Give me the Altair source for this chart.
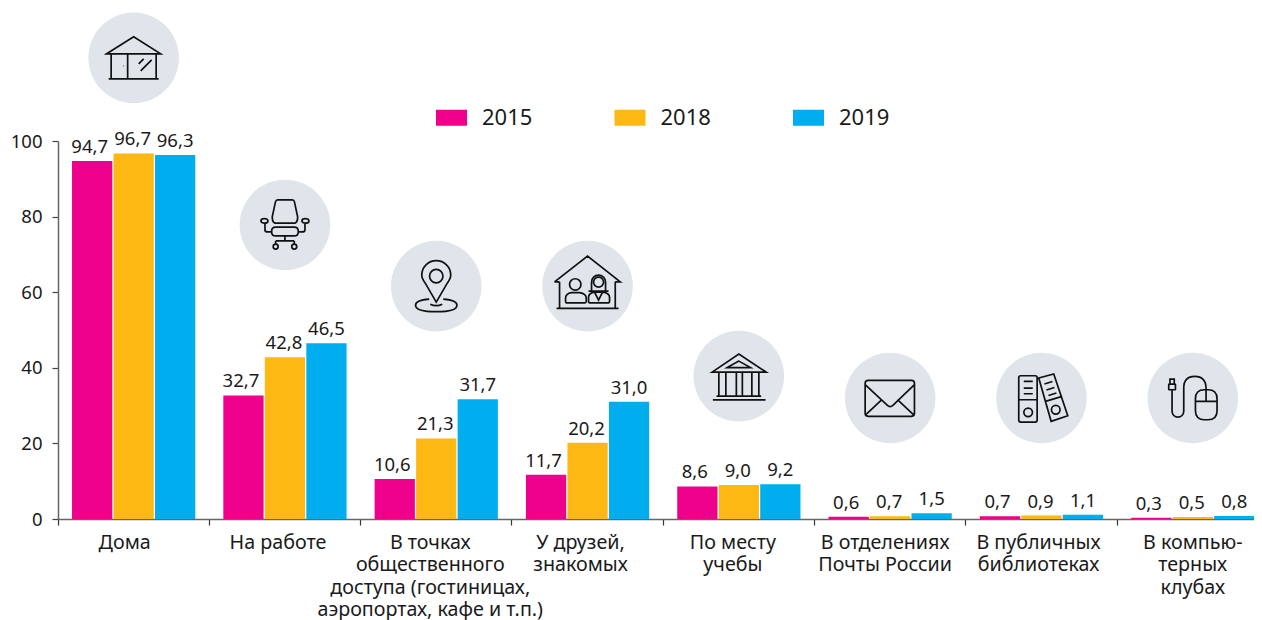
import altair as alt
import pandas as pd

categories = ["Дома", "На работе", "В точках|общественного|доступа (гостиницах,|аэропортах, кафе и т.п.)",
              "У друзей,|знакомых", "По месту|учебы", "В отделениях|Почты России",
              "В публичных|библиотеках", "В компью-|терных|клубах"]
label_shift = [-9, -7, -6, -7, -6, -5, -3, 0]
years = ["2015", "2018", "2019"]
colors = ["#EE008C", "#FDB813", "#00AEEF"]
year_label_dx = [-2.5, -1, 0]
v2015 = [94.7, 32.7, 10.6, 11.7, 8.6, 0.6, 0.7, 0.3]
v2018 = [96.7, 42.8, 21.3, 20.2, 9.0, 0.7, 0.9, 0.5]
v2019 = [96.3, 46.5, 31.7, 31.0, 9.2, 1.5, 1.1, 0.8]
icon_levels = [122, 77.8, 61.6, 61.6, 37.8, 32, 32, 32]
FONT = "Noto Sans"
INK = "#1a1a1a"


def circ(cx, cy, r):
    return f"M{cx-r},{cy}a{r},{r} 0 1,0 {2*r},0a{r},{r} 0 1,0 {-2*r},0"


def rrect(x0, y0, x1, y1, r):
    return (f"M{x0+r},{y0}L{x1-r},{y0}Q{x1},{y0} {x1},{y0+r}L{x1},{y1-r}Q{x1},{y1} {x1-r},{y1}"
            f"L{x0+r},{y1}Q{x0},{y1} {x0},{y1-r}L{x0},{y0+r}Q{x0},{y0} {x0+r},{y0}Z")


icon_house = ("M-27,-4L0,-21L27,-4ZM-22.5,-4L-22.5,21M22.5,-4L22.5,21M-25,21L25,21M-6,-4L-6,21"
              "M-10,8L-9.6,8M7,13L18,2M5,6L10,1")
icon_chair = ("M-7.3,-25L7.3,-25Q9,-25 9.5,-23L12.7,-8Q12.7,-3 10,-1.7L-10,-1.7Q-12.7,-3 -12.7,-8L-9.5,-23Q-9,-25 -7.3,-25Z"
              + rrect(-13.3, 2.3, 13.3, 11, 4)
              + "M-24,-4a3.5,2.3 0 1,0 7,0a3.5,2.3 0 1,0 -7,0M17,-4a3.5,2.3 0 1,0 7,0a3.5,2.3 0 1,0 -7,0"
              "M-20,-1.7L-20,5Q-20,7 -17,7L-13.3,7M20,-1.7L20,5Q20,7 17,7L13.3,7M0,11L0,16M-9.3,16L9.3,16M-9.3,16L-9.3,19M9.3,16L9.3,19"
              + circ(-9.3, 21.7, 2.5) + circ(9.3, 21.7, 2.5))
icon_pin = ("M0,16L-11,-3Q-14.5,-8 -14.5,-11A14.5,14.5 0 0,1 14.5,-11Q14.5,-8 11,-3Z"
            + circ(0, -10, 6.7)
            + "M-7,13Q-20.7,14 -20.7,19Q-20.7,25.5 0,25.5Q20.7,25.5 20.7,19Q20.7,14 7,13M-6,18Q0,21 6,18")
icon_friends = ("M-33,-4.3L0,-30L32.7,-4.3L27.7,-4.3M-33,-4.3L-28,-4.3M-28,-4.3L-28,22.3M27.7,-4.3L27.7,22.3M-31,22.3L31,22.3"
                + circ(-12.3, -1.7, 5.7)
                + "M-22,15Q-22,16.7 -20,16.7L-3,16.7Q-1.3,16.7 -1.3,15L-1.3,12Q-1.3,7.5 -8,6.5L-16,6.5Q-22,7.5 -22,12Z"
                + circ(11, -4, 5) + "M4,5L4,-4A7,7 0 0,1 18,-4L18,5M1,5L21,5"
                + "M1,15Q1,16.7 3,16.7L20,16.7Q22,16.7 22,15L22,11Q22,7 15,6L7,6Q1,7 1,11ZM7,6L11,14L15,6")
icon_bank = ("M-26.7,-4L0,-22L27.3,-4ZM0,-15L-11.7,-8.5L11.7,-8.5Z"
             "M-20,-4L-20,20M-13,-4L-13,20M-2.5,-4L-2.5,20M3.5,-4L3.5,20M13,-4L13,20M20,-4L20,20"
             "M-22.3,20L22.3,20M-26,23.7L26.7,23.7")
icon_mail = (rrect(-25, -17.7, 24.3, 18.3, 3)
             + "M-25,-13.3L-3,7Q0,10 3,7L24.3,-13.3M-24.3,16.7L-8.3,1.7M23.3,16.7L7.3,1.7")
icon_binders = (rrect(-22.7, -22.3, -4.3, 24, 2)
                + "M-17.7,-16.7L-8.7,-16.7M-17.7,-10L-8.7,-10M-17.7,-4.3L-8.7,-4.3M-22.7,1.7L-4.3,1.7"
                + circ(-13.3, 14.3, 4.3)
                + "M-2.7,-20L12.3,-24L26.3,17.7L9.7,23.3ZM4,3.3L20.7,-1.7M3,-14L11,-16.5M5,-8L13,-10.5M7,-2.5L15,-5"
                + circ(14.3, 11.7, 4.3))
icon_mouse = (rrect(2.7, -8.3, 24.3, 21.7, 9)
              + "M13.3,-8.3L13.3,3.3M2.7,3.3L24.3,3.3"
              "M13.3,-8.3L13.3,-10Q13,-21.7 2,-21.7Q-9,-21.7 -9,-10L-9,13.3A5.8,5.8 0 0,1 -20.7,13.3L-20.7,-8.3"
              + rrect(-24, -14, -17.3, -8.3, 0.5) + "M-22.8,-14L-22.8,-19L-18.5,-19L-18.5,-14")
icons = [icon_house, icon_chair, icon_pin, icon_friends, icon_bank, icon_mail, icon_binders, icon_mouse]

rows = []
for series, year in zip([v2015, v2018, v2019], years):
    for cat, v in zip(categories, series):
        rows.append({"cat": cat, "year": year, "v": v, "label": f"{v:.1f}".replace(".", ",")})
df = pd.DataFrame(rows)
icons_df = pd.DataFrame({"cat": categories, "lvl": icon_levels, "icon": icons})

offset_conditions = [{"test": f"datum.value === '{c}'", "value": s} for c, s in zip(categories, label_shift)]

x = alt.X(
    "cat:N",
    sort=categories,
    scale=alt.Scale(type="band", paddingInner=0, paddingOuter=0),
    axis=alt.Axis(
        title=None, labelAngle=0, bandPosition=0, labelExpr="split(datum.value,'|')",
        labelFont=FONT, labelFontSize=19.7, labelColor=INK, labelLineHeight=22.3, labelPadding=7.5,
        labelBaseline="top", labelAlign="center", labelOverlap=False, labelBound=False, labelFlush=False,
        labelLimit=400, labelOffset={"condition": offset_conditions, "value": 0},
        tickColor="#333333", tickSize=6, tickWidth=1.2,
        domainColor="#666666", domainWidth=1.5, grid=False,
    ),
)
y = alt.Y(
    "v:Q",
    scale=alt.Scale(domain=[0, 100], nice=False),
    axis=alt.Axis(
        title=None, values=[0, 20, 40, 60, 80, 100], labelFont=FONT, labelFontSize=18.5, labelColor=INK,
        labelPadding=10, labelFlush=False, tickColor="#444444", tickSize=6, tickWidth=1.2,
        domainColor="#666666", domainWidth=1.5, grid=False,
    ),
)
x_off = alt.XOffset("year:N", scale=alt.Scale(domain=years, paddingInner=0.03, paddingOuter=0.338))

bars = alt.Chart(df).mark_bar().encode(
    x=x, xOffset=x_off, y=y,
    color=alt.Color(
        "year:N",
        scale=alt.Scale(domain=years, range=colors),
        legend=alt.Legend(
            title=None, orient="none", legendX=378, legendY=-39, direction="horizontal", columns=3,
            symbolType="M-1,-0.516H1V0.516H-1Z", symbolSize=961, symbolStrokeWidth=0, symbolOpacity=1,
            labelFont=FONT, labelFontSize=22, labelColor=INK, labelOffset=15, columnPadding=81.5,
        ),
    ),
)
label_layers = [
    alt.Chart(df[df["year"] == yr]).mark_text(
        font=FONT, fontSize=18.5, color=INK, baseline="bottom", dy=-4, dx=dx
    ).encode(x=x, xOffset=x_off, y=y, text="label:N")
    for yr, dx in zip(years, year_label_dx)
]
discs = alt.Chart(icons_df).mark_circle(size=8200, color="#DFE5EA", opacity=1).encode(
    x=x, y=alt.Y("lvl:Q", scale=alt.Scale(domain=[0, 100], nice=False)),
)
glyphs = alt.Chart(icons_df).mark_point(size=4, filled=False, stroke="#111111", strokeWidth=1.7, opacity=1).encode(
    x=x, y=alt.Y("lvl:Q"),
    shape=alt.Shape("icon:N", scale=None, legend=None),
)

chart = alt.layer(discs, glyphs, bars, *label_layers).properties(
    width=alt.Step(step=151.3, **{"for": "position"}), height=378,
    autosize=alt.AutoSizeParams(type="none"),
    padding={"left": 50, "top": 133, "right": -14.4, "bottom": 103},
).configure_view(stroke=None)

chart.save("out.html", embed_options={"renderer": "svg", "actions": False})
